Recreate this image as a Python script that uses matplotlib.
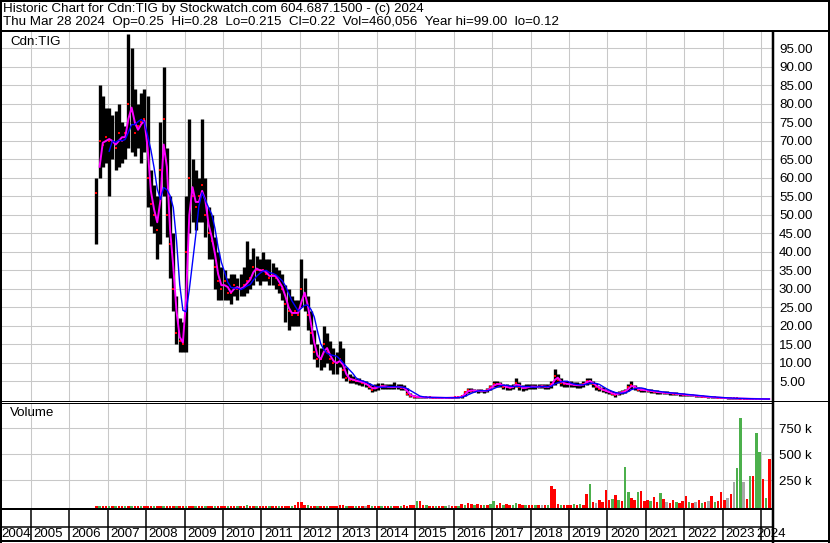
import numpy as np
import pandas as pd
import matplotlib.pyplot as plt
from matplotlib.lines import Line2D
from matplotlib.ticker import FixedLocator, FuncFormatter

plt.rcParams['font.family'] = ['Liberation Sans', 'DejaVu Sans']

# monthly bars, first one is Sep 2006
first_year, first_month = 2006, 9

highs = [
    60, 85, 82, 79,
    79, 77, 78, 80, 75, 74, 99, 95, 84, 80, 83, 84,
    82, 62, 58, 55, 75, 90, 68, 55, 45, 28, 22, 21,
    55, 76, 65, 62, 60, 76, 60, 52, 50, 44, 40, 36,
    35, 33, 34, 34, 33, 34, 36, 43, 38, 41, 39, 38,
    40, 38, 38, 37, 36, 35, 34, 31, 30, 28, 27, 27,
    38, 33, 28, 24, 19, 15, 14, 20, 18, 16, 14, 13,
    16, 14, 9, 7, 6.5, 6, 6, 5.5, 5, 4.6, 4, 4.2,
    4.5, 4.6, 4.4, 4.2, 4.2, 4.8, 4.3, 4.2, 4.0, 3.2, 1.8, 1.3,
    1.0, 0.9, 0.9, 0.85, 0.8, 0.8, 0.75, 0.7, 0.7, 0.7, 0.7, 0.75,
    0.8, 0.8, 1.2, 2.4, 3.2, 3.2, 3.0, 2.9, 3.0, 2.8, 3.2, 4.0,
    5.0, 5.0, 4.8, 4.4, 4.2, 4.0, 4.4, 6.0, 4.8, 4.0, 4.2, 4.3,
    4.4, 4.2, 4.2, 4.4, 4.3, 4.2, 5.0, 8.3, 7.0, 5.8, 5.2, 5.0,
    5.0, 4.8, 4.8, 4.6, 5.0, 6.0, 6.0, 5.2, 4.5, 3.8, 3.4, 3.0,
    2.8, 2.5, 2.0, 2.4, 2.6, 3.0, 4.2, 5.2, 4.0, 3.5, 3.3, 3.2,
    3.0, 2.9, 2.7, 2.6, 2.4, 2.3, 2.3, 2.2, 2.1, 2.0, 1.9, 1.8,
    1.7, 1.6, 1.5, 1.4, 1.3, 1.2, 1.1, 1.0, 0.95, 0.85, 0.8, 0.75,
    0.7, 0.65, 0.6, 0.55, 0.5, 0.48, 0.45, 0.42, 0.4, 0.36, 0.35, 0.34,
    0.34, 0.32, 0.28,
]

lows = [
    42, 60, 63, 64,
    55, 65, 62, 63, 64, 65, 68, 67, 66, 68, 64, 67,
    52, 47, 45, 38, 42, 55, 44, 33, 24, 15, 13, 13,
    13, 45, 48, 46, 48, 48, 44, 38, 38, 30, 27, 27,
    27, 27, 26, 28, 27, 28, 28, 29, 30, 31, 32, 31,
    32, 32, 31, 31, 30, 29, 27, 21, 19, 20, 20, 20,
    25, 24, 19, 15, 11, 9, 8, 9, 10, 8, 7, 7,
    9, 6, 5, 4.5, 4.5, 4.3, 4, 3.8, 3.5, 3, 2.2, 2.4,
    2.8, 3, 3, 3, 3, 3, 3, 2.8, 2.6, 1.2, 0.8, 0.6,
    0.6, 0.55, 0.5, 0.5, 0.5, 0.45, 0.45, 0.4, 0.4, 0.4, 0.4, 0.45,
    0.5, 0.55, 0.6, 1.0, 1.8, 2.0, 2.0, 1.9, 2.0, 1.9, 2.0, 2.6,
    3.4, 3.6, 3.5, 3.0, 2.8, 2.8, 3.0, 3.4, 2.6, 2.5, 2.8, 2.9,
    3.0, 3.0, 3.1, 3.1, 3.0, 3.0, 3.2, 4.0, 4.5, 3.8, 3.6, 3.4,
    3.5, 3.4, 3.3, 3.3, 3.5, 4.0, 4.2, 3.4, 2.8, 2.4, 2.0, 1.8,
    1.6, 1.2, 0.9, 1.3, 1.6, 1.8, 2.4, 3.0, 2.6, 2.3, 2.2, 2.1,
    2.0, 1.9, 1.8, 1.7, 1.6, 1.5, 1.5, 1.4, 1.3, 1.2, 1.1, 1.0,
    1.1, 1.0, 0.95, 0.85, 0.8, 0.7, 0.65, 0.6, 0.55, 0.5, 0.45, 0.4,
    0.38, 0.35, 0.32, 0.3, 0.28, 0.26, 0.24, 0.22, 0.2, 0.18, 0.17, 0.16,
    0.16, 0.15, 0.12,
]

closes = [
    56, 70, 69, 71,
    70, 70, 68, 72, 70, 72, 80, 78, 72, 74, 75, 76,
    60, 53, 50, 46, 62, 76, 50, 42, 30, 18, 16, 15,
    40, 60, 55, 52, 55, 58, 50, 45, 43, 36, 32, 30,
    32, 29, 29, 31, 30, 30, 31, 32, 33, 36, 35, 35,
    35, 34, 33, 34, 33, 31, 30, 26, 24, 23, 24, 23,
    30, 28, 23, 18, 13, 11, 11, 15, 13, 11, 10, 10,
    11, 8, 6, 5.5, 5.5, 5, 5, 4.6, 4.2, 3.6, 2.8, 3.4,
    3.5, 3.8, 3.6, 3.5, 3.4, 3.6, 3.5, 3.3, 3.2, 1.6, 1.1, 0.9,
    0.8, 0.7, 0.7, 0.65, 0.65, 0.6, 0.6, 0.55, 0.55, 0.55, 0.6, 0.6,
    0.65, 0.7, 1.0, 2.0, 2.6, 2.5, 2.5, 2.4, 2.5, 2.3, 2.7, 3.5,
    4.2, 4.3, 4.2, 3.6, 3.4, 3.3, 3.6, 4.6, 3.4, 3.1, 3.4, 3.6,
    3.6, 3.5, 3.6, 3.7, 3.5, 3.5, 4.2, 6.5, 5.5, 4.6, 4.4, 4.2,
    4.2, 4.0, 4.0, 3.9, 4.3, 5.2, 5.0, 4.2, 3.5, 3.0, 2.6, 2.3,
    2.0, 1.6, 1.4, 1.9, 2.1, 2.4, 3.5, 4.0, 3.2, 2.8, 2.7, 2.6,
    2.5, 2.4, 2.2, 2.1, 2.0, 1.9, 1.9, 1.8, 1.7, 1.6, 1.5, 1.4,
    1.35, 1.3, 1.2, 1.1, 1.0, 0.9, 0.85, 0.8, 0.7, 0.65, 0.6, 0.55,
    0.5, 0.45, 0.42, 0.4, 0.38, 0.35, 0.32, 0.3, 0.28, 0.26, 0.25, 0.24,
    0.24, 0.23, 0.22,
]

# volume in thousands of shares
volumes = [
    3, 4, 3, 3,
    4, 3, 3, 4, 3, 3, 5, 4, 3, 3, 3, 3,
    4, 3, 3, 3, 4, 5, 4, 3, 3, 4, 3, 3,
    5, 4, 4, 3, 4, 3, 6, 3, 4, 3, 3, 3,
    4, 3, 3, 3, 4, 3, 3, 8, 4, 3, 3, 3,
    3, 3, 3, 3, 3, 4, 3, 4, 5, 6, 8, 45,
    40, 12, 8, 6, 5, 5, 4, 4, 4, 4, 6, 5,
    10, 8, 4, 5, 4, 4, 4, 5, 4, 8, 4, 4,
    4, 4, 5, 4, 4, 6, 4, 4, 10, 4, 12, 8,
    51, 51, 10, 8, 6, 4, 5, 4, 4, 3, 8, 3,
    4, 3, 20, 15, 30, 18, 12, 25, 10, 8, 10, 20,
    51, 15, 28, 10, 25, 10, 8, 30, 20, 15, 10, 8,
    10, 8, 12, 10, 8, 15, 195, 166, 20, 10, 10, 12,
    15, 20, 10, 25, 15, 118, 214, 40, 30, 60, 40, 157,
    60, 70, 110, 60, 50, 378, 137, 80, 59, 137, 147, 50,
    60, 50, 90, 40, 128, 66, 40, 30, 60, 40, 30, 50,
    100, 40, 30, 40, 60, 30, 40, 50, 100, 40, 50, 137,
    60, 80, 120, 233, 368, 849, 233, 66, 291, 291, 705, 522,
    263, 80, 455,
]

# r = down, g = up, n = unchanged
vol_dirs = (
    "rgrr"
    "grgrrgrgrrgr"
    "rrgrrgrrrgrr"
    "grrgrrgrrgrr"
    "rgrrgrrgrrgr"
    "rrgrrgrrrgrr"
    "rrgrrgrrgrrr"
    "rrgrrgrrnrgr"
    "rgrrgrrgrrrr"
    "grrgrrgrrgnr"
    "rgrgrrgrrgrg"
    "grrgrrggrrgr"
    "rgrnrgrrrgrr"
    "rgrgrrgrnrrr"
    "rgrgrggrrgrr"
    "rgrrgrnrrgrr"
    "rgrnrgrnrgrr"
    "rnrnggnrgrgg"
    "rgr"
)

years = list(range(2004, 2025))

W, H = 830, 543
PX_PER_YEAR = 38.45
X0 = 2005 - 28.7 / PX_PER_YEAR
X1 = 2005 + 742.3 / PX_PER_YEAR

months = np.arange(len(closes)) + first_month - 1
x = first_year + (months + 0.5) / 12.0
close_s = pd.Series(closes)
fast_ma = close_s.rolling(2).mean()
slow_ma = close_s.rolling(5).mean()

grid_col = '#c8c8c8'
vol_cols = {'r': '#ff0000', 'g': '#4cb04c', 'n': '#a8a8a8'}
FS = 9.6


def box(x0, y0, x1, y1):
    return [x0 / W, 1 - y1 / H, (x1 - x0) / W, (y1 - y0) / H]


def line(fig, xs, ys, lw):
    fig.add_artist(Line2D([v / W for v in xs], [1 - v / H for v in ys],
                          color='black', lw=lw * 0.72, transform=fig.transFigure,
                          solid_capstyle='butt'))


fig = plt.figure(figsize=(W / 100, H / 100), dpi=100)
fig.patch.set_facecolor('white')

# price panel
ax = fig.add_axes(box(2, 31, 773, 401))
ax.set_xlim(X0, X1)
ax.set_ylim(-0.3, 99.7)
ax.vlines(x, lows, highs, color='black', lw=2.4)
ax.plot(x, closes, 's', color='red', ms=1.6, mew=0)
ax.plot(x, fast_ma, color='#ff00ff', lw=1.4)
ax.plot(x, slow_ma, color='#0000ff', lw=1.0)
ax.xaxis.set_major_locator(FixedLocator(years[1:]))
ax.yaxis.set_major_locator(FixedLocator(range(5, 100, 5)))
ax.yaxis.set_major_formatter(FuncFormatter(lambda v, p: '%.2f' % v))
ax.grid(True, color=grid_col, lw=0.75)
ax.set_axisbelow(True)
ax.tick_params(axis='x', length=0, labelbottom=False)
ax.tick_params(axis='y', length=0, left=False, labelleft=False,
               right=False, labelright=True, pad=4.3, labelsize=FS)
for s in ax.spines.values():
    s.set_visible(False)
ax.text(8 / 771, 1 - 11 / 370, 'Cdn:TIG', transform=ax.transAxes,
        fontsize=FS, va='center', ha='left')

# volume panel
vax = fig.add_axes(box(2, 403, 773, 509))
vax.set_xlim(X0, X1)
vax.set_ylim(-26, 993)
vax.bar(x, np.array(volumes) + 26, bottom=-26, width=0.065,
        color=[vol_cols[c] for c in vol_dirs], lw=0)
vax.xaxis.set_major_locator(FixedLocator(years[1:]))
vax.yaxis.set_major_locator(FixedLocator([250, 500, 750]))
vax.yaxis.set_major_formatter(FuncFormatter(lambda v, p: '%d k' % v))
vax.grid(True, color=grid_col, lw=0.75)
vax.set_axisbelow(True)
vax.tick_params(axis='x', length=0, labelbottom=False)
vax.tick_params(axis='y', length=0, left=False, labelleft=False,
                right=False, labelright=True, pad=4.3, labelsize=FS)
for s in vax.spines.values():
    s.set_visible(False)
vax.text(8 / 771, 1 - 10 / 106, 'Volume', transform=vax.transAxes,
         fontsize=FS, va='center', ha='left')

# year strip
yax = fig.add_axes(box(2, 509, 773, 541))
yax.set_xlim(X0, X1)
yax.set_ylim(0, 1)
yax.axis('off')
for yr in years[1:]:
    yax.axvline(yr, color='black', lw=1.1)
lo_lim = X0 - 0.3 / PX_PER_YEAR
hi_lim = X1 - 16.3 / PX_PER_YEAR
for yr in years:
    pos = min(max(yr + 2.6 / PX_PER_YEAR, lo_lim), hi_lim)
    yax.text(pos, 0.22, str(yr), fontsize=FS, va='center', ha='left', clip_on=False)

# frame lines
line(fig, [0, W], [31, 31], 2)
line(fig, [0, W], [401, 401], 1)
line(fig, [0, 773], [403, 403], 1)
line(fig, [0, 773], [509, 509], 2)
line(fig, [0, 773], [527, 527], 1.5)
line(fig, [773, 773], [31, H], 2.5)
line(fig, [1, 1], [0, H], 2)
line(fig, [W - 1, W - 1], [0, H], 2)
line(fig, [0, W], [1, 1], 2)
line(fig, [0, W], [H - 2, H - 2], 2)

fig.text(3 / W, 1 - 9 / H,
         'Historic Chart for Cdn:TIG by Stockwatch.com 604.687.1500 - (c) 2024',
         fontsize=FS, va='center', ha='left')
fig.text(3 / W, 1 - 22 / H,
         'Thu Mar 28 2024  Op=0.25  Hi=0.28  Lo=0.215  Cl=0.22  Vol=460,056  Year hi=99.00  lo=0.12',
         fontsize=FS, va='center', ha='left')

fig.savefig('out.png', dpi=100)
